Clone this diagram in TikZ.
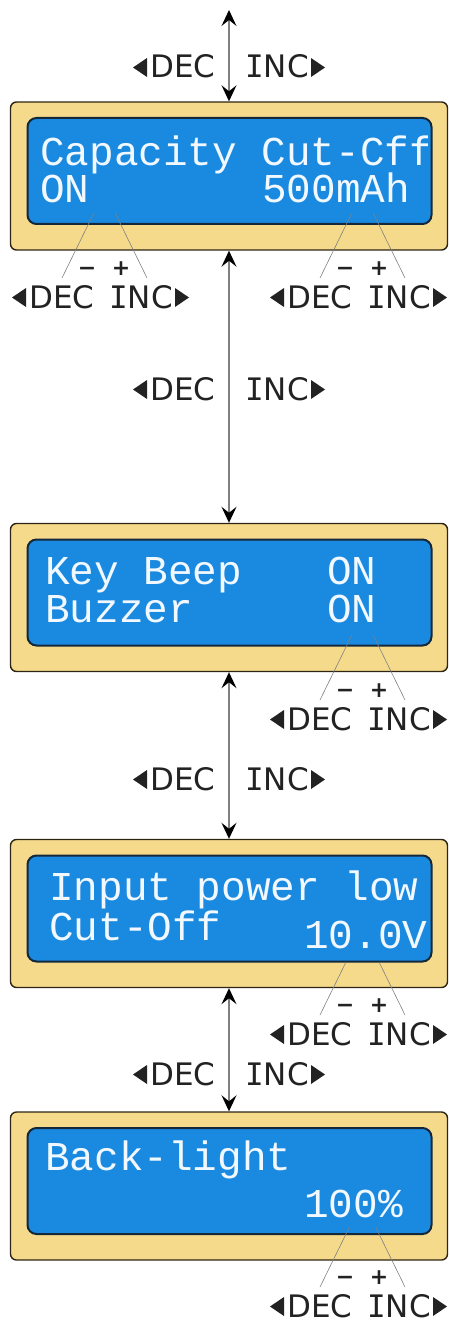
\documentclass[tikz,border=0pt]{standalone}
\usepackage{fontspec}
\usetikzlibrary{arrows.meta}
\newfontfamily\lcdfont{Liberation Mono}
\newfontfamily\keyfont{DejaVu Sans}
\newfontfamily\keyserif{DejaVu Sans Mono}

\definecolor{frameyellow}{HTML}{F6DA8C}
\definecolor{frameedge}{HTML}{2E2614}
\definecolor{lcdblue}{HTML}{1A8AE0}
\definecolor{lcdedge}{HTML}{14283C}
\definecolor{lcdink}{HTML}{F2F8FF}
\definecolor{keyink}{HTML}{222222}
\definecolor{wire}{HTML}{808080}

\tikzset{
  lcdframe/.style={draw=frameedge, fill=frameyellow, line width=1.4pt,
    rounded corners=6pt, minimum width=437pt, minimum height=148pt, inner sep=0pt},
  lcdscreen/.style={draw=lcdedge, fill=lcdblue, line width=2pt,
    rounded corners=9pt, minimum width=404pt, minimum height=106pt, inner sep=0pt},
  lcdtext/.style={font=\lcdfont\fontsize{41}{41}\selectfont, text=lcdink,
    inner sep=0pt, anchor=base west},
  keylabel/.style={font=\keyfont\fontsize{31}{31}\selectfont, text=keyink,
    inner sep=0pt, anchor=base west},
  pmsign/.style={font=\keyfont\bfseries\fontsize{22}{22}\selectfont, text=keyink,
    inner sep=0pt, anchor=base},
  leadline/.style={draw=wire, line width=0.6pt},
  navtip/.tip={Stealth[length=16pt,width=15pt,inset=6pt,color=black]},
  vconn/.style={draw=wire, line width=1.2pt, arrows={navtip-navtip}},
  % DEC / INC pair with pointing triangles; argument = offset of INC
  decinc/.pic={
    \node[keylabel] (-dec) at (0,0) {DEC};
    \node[keylabel] (-inc) at (#1,0) {{\keyserif I}NC};
    \fill[keyink] (-dec.base west) ++(-3,-1) -- ++(0,-19) -- ++(-14,9.5) -- cycle;
    \fill[keyink] (-inc.base west) ++(66,-1) -- ++(0,-19) -- ++(14,9.5) -- cycle;
  },
  % minus / plus marks and the two lead lines up to the value; argument = lead length
  adjust/.pic={
    \node[pmsign] (-minus) at (58,-32.5) {−};
    \node[pmsign] (-plus) at (92,-32.5) {+};
    \draw[leadline] (33,-30) -- ({33+0.49*(#1-30)},-#1);
    \draw[leadline] (118,-30) -- ({118-0.49*(#1-30)},-#1);
  },
}

\begin{document}
\begin{tikzpicture}[x=1pt,y=-1pt]
\useasboundingbox (0,0) rectangle (449,1324);

% display frames and screens
\node[lcdframe] (b1) at (229,176) {};
\node[lcdscreen] (s1) at (229.5,171) {};
\node[lcdframe] (b2) at (229,597.5) {};
\node[lcdscreen] (s2) at (229.5,592.5) {};
\node[lcdframe] (b3) at (229,913.5) {};
\node[lcdscreen] (s3) at (229.5,908.5) {};
\node[lcdframe] (b4) at (229,1186) {};
\node[lcdscreen] (s4) at (229.5,1181) {};

% screen 1
\begin{scope}
  \clip[rounded corners=8pt] ([xshift=3pt,yshift=3pt]s1.south west) rectangle ([xshift=-5pt,yshift=-3pt]s1.north east);
  \node[lcdtext] (t1a) at (40,166) {Capacity Cut-Cff};
\end{scope}
\node[lcdtext] (t1b) at (40,203) {ON};
\node[lcdtext] (t1c) at (262,203) {500mAh};

% screen 2
\node[lcdtext] (t2a) at (45,584) {Key Beep};
\node[lcdtext] (t2b) at (327,584) {ON};
\node[lcdtext] (t2c) at (45,622) {Buzzer};
\node[lcdtext] (t2d) at (327,622) {ON};

% screen 3
\node[lcdtext] (t3a) at (49,900) {Input power low};
\node[lcdtext] (t3b) at (49,940) {Cut-Off};
\node[lcdtext] (t3c) at (304,948) {10.0V};

% screen 4
\node[lcdtext] (t4a) at (45,1170) {Back-light};
\node[lcdtext] (t4b) at (304,1217) {100\%};

% menu navigation arrows
\coordinate (top) at (229,10);
\draw[vconn] (top) -- (b1.north);
\draw[vconn] (b1.south) -- (b2.north);
\draw[vconn] (b2.south) -- (b3.north);
\draw[vconn] (b3.south) -- (b4.north);

% navigation key labels
\pic (n0) at (150,78) {decinc=95};
\pic (n1) at (150,400) {decinc=95};
\pic (n2) at (150,790) {decinc=95};
\pic (n3) at (150,1085) {decinc=95};

% value adjustment key labels
\pic (k1l) at (29,308) {decinc=80};
\pic (a1l) at (29,308) {adjust=95};
\pic (k1r) at (287,308) {decinc=80};
\pic (a1r) at (287,308) {adjust=95};
\pic (k2) at (287,730) {decinc=80};
\pic (a2) at (287,730) {adjust=95};
\pic (k3) at (287,1045) {decinc=80};
\pic (a3) at (287,1045) {adjust=83};
\pic (k4) at (287,1317) {decinc=80};
\pic (a4) at (287,1317) {adjust=90};
\end{tikzpicture}
\end{document}
